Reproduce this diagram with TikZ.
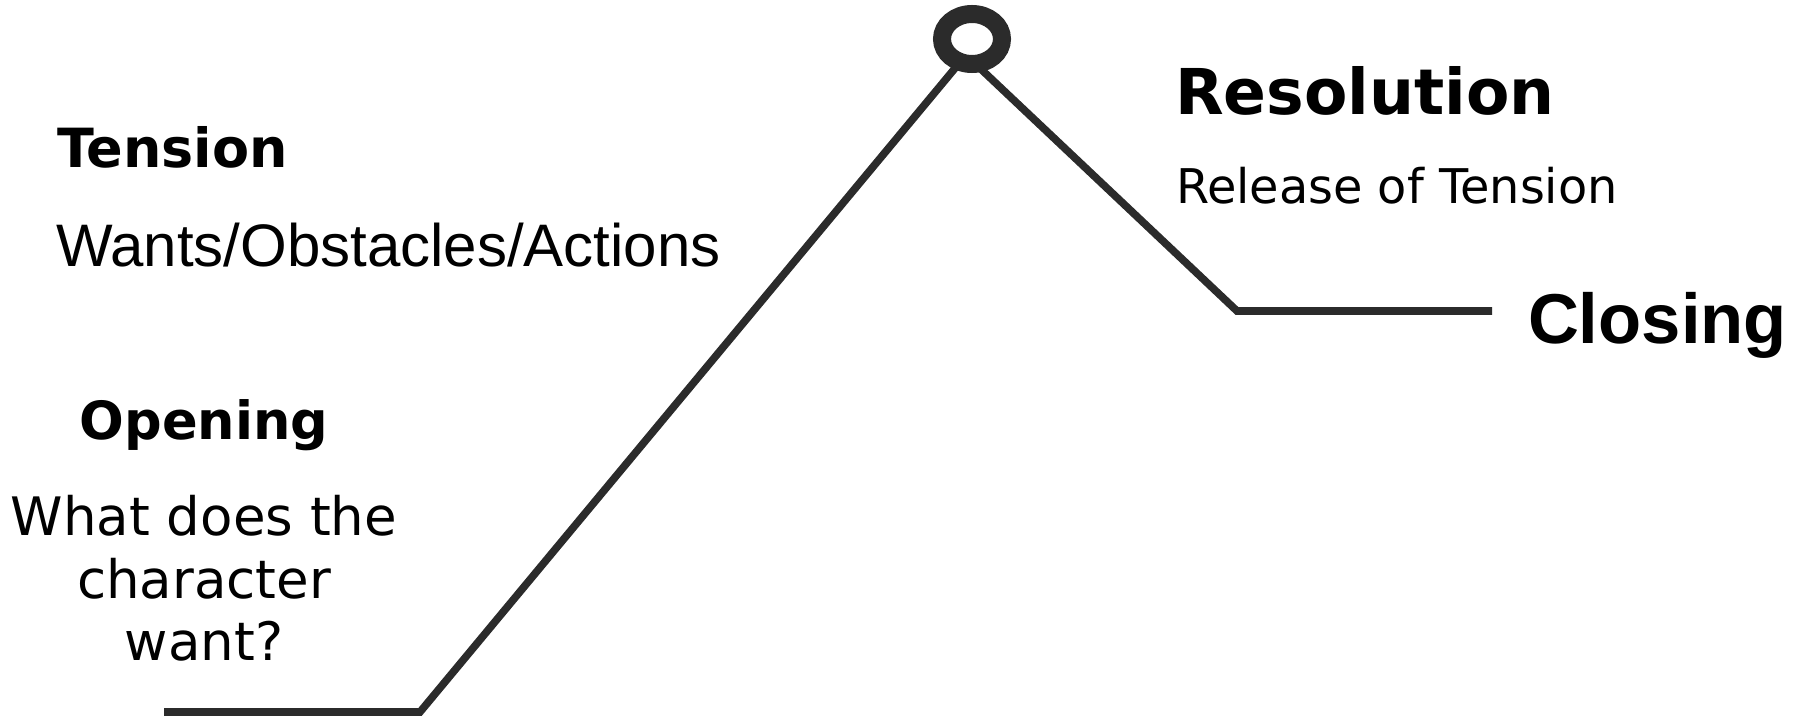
\documentclass[tikz,border=0pt]{standalone}
\usepackage{fontspec}
\usepackage{tikz}
\usetikzlibrary{shapes}
\newfontfamily\wideface{DejaVu Sans}
\newfontfamily\narrowface{Liberation Sans}
\definecolor{arc_grey}{RGB}{43,43,43}

\begin{document}
\begin{tikzpicture}[x=0.5pt,y=-0.5pt]
    \tikzstyle{arc}=[draw=arc_grey, line width=3.8pt]
    \tikzstyle{label}=[inner sep=0pt, outer sep=0pt, text=black]
    \tikzstyle{stage}=[style=label, anchor=base west]
    \tikzstyle{note}=[style=label, anchor=base]
    \tikzstyle{peakring}=[ellipse, draw=arc_grey, fill=white, line width=9pt,
                          minimum width=30pt, minimum height=25pt, inner sep=0pt]

    \useasboundingbox (0,0) rectangle (1805,716);

    % the story line
    \coordinate (start)  at (164,712);
    \coordinate (climb)  at (420,712);
    \coordinate (apex)   at (966,55);
    \coordinate (fall)   at (1237,311);
    \coordinate (finish) at (1492,311);

    \draw[arc] (start) -- (climb) -- (apex) -- (fall) -- (finish);
    \node[peakring] (peak) at (972,39) {};

    % labels
    \node[stage, font=\wideface\bfseries\fontsize{27}{30}\selectfont] (tension) at (57,168) {Tension};
    \node[stage, font=\narrowface\fontsize{30}{34}\selectfont] (wants) at (56,267) {Wants/Obstacles/Actions};

    \node[note, font=\wideface\bfseries\fontsize{26.3}{31}\selectfont] (opening) at (204,440) {Opening};
    \node[note, font=\wideface\fontsize{26.5}{31}\selectfont] (ask1) at (204,536) {What does the};
    \node[note, font=\wideface\fontsize{26.5}{31}\selectfont] (ask2) at (204,598) {character};
    \node[note, font=\wideface\fontsize{26.5}{31}\selectfont] (ask3) at (204,660) {want?};

    \node[stage, font=\wideface\bfseries\fontsize{31.6}{36}\selectfont] (resolution) at (1175,115) {Resolution};
    \node[stage, font=\wideface\fontsize{23.9}{28}\selectfont] (release) at (1176,204) {Release of Tension};

    \node[stage, font=\narrowface\bfseries\fontsize{35.3}{40}\selectfont] (closing) at (1528,344) {Closing};
\end{tikzpicture}
\end{document}
